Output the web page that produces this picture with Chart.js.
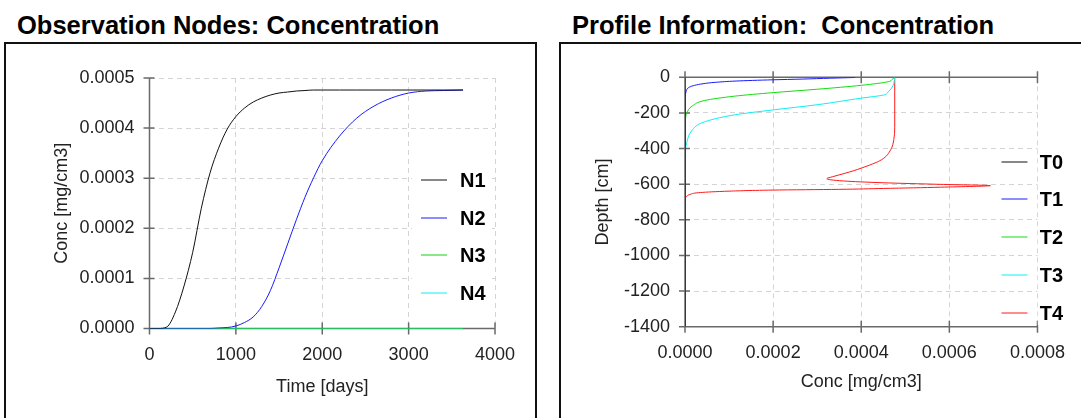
<!DOCTYPE html>
<html>
<head>
<meta charset="utf-8">
<script src="https://cdn.jsdelivr.net/npm/chart.js@4.4.1/dist/chart.umd.min.js"></script>
<style>
  html, body { margin: 0; padding: 0; background: #fff; }
  body { width: 1081px; height: 418px; position: relative; overflow: hidden; font-family: "Liberation Sans", Arial, sans-serif; }
  .title { position: absolute; top: 11px; font-weight: bold; font-size: 25.5px; color: #000; white-space: pre; }
  .box { position: absolute; top: 42px; height: 400px; border: 2px solid #111; }
  canvas { position: absolute; top: 0; }
</style>
</head>
<body>
<div class="title" style="left:17px">Observation Nodes: Concentration</div>
<div class="title" style="left:572px">Profile Information:  Concentration</div>
<div class="box" style="left:4px; width:529px"></div>
<div class="box" style="left:559px; width:540px"></div>
<canvas id="nodes" width="540" height="418" style="left:0"></canvas>
<canvas id="profile" width="521" height="418" style="left:560px"></canvas>
<script>
// observation nodes: concentration vs time
const timeDays = [0, 100, 200, 300, 400, 500, 600, 700, 800, 900, 1000, 1100, 1200, 1300, 1400,
                  1500, 1600, 1700, 1800, 1900, 2000, 2200, 2400, 2600, 2800, 3000, 3200, 3400, 3630];
const nodeLabels = ['N1', 'N2', 'N3', 'N4'];
const n1Conc = [0, 0, 0.000003, 0.000033, 0.000085, 0.000152, 0.00024, 0.00031, 0.00036, 0.000398,
                0.000423, 0.00044, 0.000452, 0.00046, 0.000466, 0.00047, 0.000472, 0.000474, 0.000475,
                0.000476, 0.000476, 0.000476, 0.000476, 0.000476, 0.000476, 0.000476, 0.000476, 0.000476, 0.000476];
const n2Conc = [0, 0, 0, 0, 0, 0, 0, 0, 0.000001, 0.000002, 0.000005, 0.000012, 0.000023, 0.000044,
                0.000076, 0.000121, 0.000169, 0.000217, 0.000262, 0.000301, 0.000335, 0.000384, 0.00042,
                0.000444, 0.00046, 0.00047, 0.000474, 0.000475, 0.000476];
const n3Conc = [0, 0, 0, 0, 0, 0, 0, 0, 0, 0, 0, 0, 0, 0, 0, 0, 0, 0, 0, 0, 0, 0, 0, 0, 0, 0, 0, 0, 0];
const n4Conc = [0, 0, 0, 0, 0, 0, 0, 0, 0, 0, 0, 0, 0, 0, 0, 0, 0, 0, 0, 0, 0, 0, 0, 0, 0, 0, 0, 0, 0];
const timeTicks = [0, 1000, 2000, 3000, 4000];
const nodeConcTicks = [0, 0.0001, 0.0002, 0.0003, 0.0004, 0.0005];

// profile information: depth vs concentration
const profileLabels = ['T0', 'T1', 'T2', 'T3', 'T4'];
const t0Depth = [0, -1400];
const t0Conc = [0, 0];
const t1Depth = [-1, -5, -10, -14, -21, -28, -36, -54, -85, -110, -1400];
const t1Conc = [0.000386, 0.00033, 0.000266, 0.0002, 0.000116, 0.00007, 0.000041, 0.000011, 0.000002, 0, 0];
const t2Depth = [0, -12, -25, -45, -67, -86, -106, -130, -160, -200, -240, -290, -1400];
const t2Conc = [0.000476, 0.00047, 0.000461, 0.0004, 0.0003, 0.0002, 0.000112, 0.000045, 0.000017, 0.000004, 0.000001, 0, 0];
const t3Depth = [0, -34, -60, -82, -100, -117, -154, -183, -211, -253, -301, -368, -434, -1400];
const t3Conc = [0.000476, 0.000474, 0.000469, 0.000461, 0.00045, 0.0004, 0.0003, 0.0002, 0.000112, 0.000041, 0.000015, 0.000004, 0, 0];
const t4Depth = [0, -280, -349, -406, -463, -510, -539, -558, -569, -582, -592, -601, -608,
                 -617, -624, -629, -633, -640, -648, -657, -670, -680, -1400];
const t4Conc = [0.000476, 0.000476, 0.000474, 0.000467, 0.000446, 0.0004, 0.000363, 0.000335, 0.000322,
                0.00036, 0.00045, 0.00058, 0.000693, 0.00058, 0.00045, 0.000349, 0.0002, 0.00009,
                0.00003, 0.000012, 0.000003, 0, 0];
const profileConcTicks = [0, 0.0002, 0.0004, 0.0006, 0.0008];
const depthTicks = [-1400, -1200, -1000, -800, -600, -400, -200, 0];

Chart.defaults.font.family = '"Liberation Sans", Arial, sans-serif';
Chart.defaults.font.size = 18;
Chart.defaults.color = '#222';

// axis lines with crossing tick marks, plus the in-plot legend
const axisFrame = {
  id: 'axisFrame',
  beforeDatasetsDraw(chart, args, o) {
    const { ctx, chartArea: a, scales } = chart;
    ctx.save();
    if (o.boxW) {
      ctx.fillStyle = '#fff';
      ctx.fillRect(a.right + o.boxX, a.top + o.boxY, o.boxW, o.boxH);
    }
    ctx.strokeStyle = '#6a6a6a';
    ctx.lineWidth = 1.5;
    ctx.beginPath();
    ctx.moveTo(a.left, a.top);
    ctx.lineTo(a.left, a.bottom);
    scales.y.ticks.forEach(t => {
      const p = scales.y.getPixelForValue(t.value);
      ctx.moveTo(a.left - 6, p);
      ctx.lineTo(a.left + 5, p);
    });
    const sides = o.top ? [a.bottom, a.top] : [a.bottom];
    sides.forEach(yy => {
      ctx.moveTo(a.left, yy);
      ctx.lineTo(a.right, yy);
      scales.x.ticks.forEach(t => {
        const p = scales.x.getPixelForValue(t.value);
        ctx.moveTo(p, yy - 6);
        ctx.lineTo(p, yy + 6);
      });
    });
    ctx.stroke();
    ctx.restore();
  },
  afterDatasetsDraw(chart, args, o) {
    const { ctx, chartArea: a } = chart;
    ctx.save();
    ctx.font = 'bold 20px "Liberation Sans", Arial, sans-serif';
    ctx.textBaseline = 'middle';
    chart.data.datasets.forEach((ds, i) => {
      const y = Math.round(a.top + o.rowTop + i * o.rowGap);
      const x0 = a.right + o.lineX;
      ctx.strokeStyle = ds.borderColor;
      ctx.lineWidth = 1;
      ctx.beginPath();
      ctx.moveTo(x0, y);
      ctx.lineTo(x0 + 26, y);
      ctx.stroke();
      const tx = a.right + o.textX;
      if (o.textBg) {
        ctx.fillStyle = '#fff';
        ctx.fillRect(tx - 2, y - 12, ctx.measureText(ds.label).width + 4, 24);
      }
      ctx.fillStyle = '#000';
      ctx.fillText(ds.label, tx, y + 1);
    });
    ctx.restore();
  }
};

const gridStyle = { color: '#d4d4d4', drawTicks: false };
const borderStyle = { display: false, dash: [5, 4] };

const nodeSeries = [n1Conc, n2Conc, n3Conc, n4Conc];
const nodeColors = ['#111111', '#1a1aff', '#12d012', '#12eeee'];

new Chart(document.getElementById('nodes'), {
  type: 'scatter',
  data: {
    datasets: nodeLabels.map((label, i) => ({
      label,
      data: timeDays.map((t, k) => ({ x: t, y: nodeSeries[i][k] })),
      borderColor: nodeColors[i],
      borderWidth: 1,
      showLine: true,
      pointRadius: 0,
      cubicInterpolationMode: 'monotone'
    }))
  },
  options: {
    responsive: false,
    animation: false,
    events: [],
    layout: { padding: { left: 0, top: 78, right: 45, bottom: 0 } },
    scales: {
      x: {
        type: 'linear', min: 0, max: 4000,
        afterBuildTicks: s => { s.ticks = timeTicks.map(v => ({ value: v })); },
        afterFit: s => { s.height = 89.5; },
        grid: gridStyle, border: borderStyle,
        ticks: { padding: 16, callback: v => String(v) },
        title: { display: true, text: 'Time [days]', font: { size: 18 }, padding: { top: 0, bottom: 20 } }
      },
      y: {
        type: 'linear', min: 0, max: 0.0005,
        afterBuildTicks: s => { s.ticks = nodeConcTicks.map(v => ({ value: v })); },
        afterFit: s => { s.width = 149.5; },
        grid: gridStyle, border: borderStyle,
        ticks: { padding: 15, callback: v => v.toFixed(4) },
        title: { display: true, text: 'Conc [mg/cm3]', font: { size: 18 }, padding: { top: 51, bottom: 0 } }
      }
    },
    plugins: {
      legend: { display: false },
      tooltip: { enabled: false },
      axisFrame: { top: false, rowTop: 102, rowGap: 37.7, lineX: -74, textX: -35,
                   boxX: -83, boxY: 85, boxW: 78, boxH: 147, textBg: false }
    }
  },
  plugins: [axisFrame]
});

const profileDepths = [t0Depth, t1Depth, t2Depth, t3Depth, t4Depth];
const profileConcs = [t0Conc, t1Conc, t2Conc, t3Conc, t4Conc];
const profileColors = ['#111111', '#1a1aff', '#12dd12', '#12eeee', '#ff1a1a'];

new Chart(document.getElementById('profile'), {
  type: 'scatter',
  data: {
    datasets: profileLabels.map((label, i) => ({
      label,
      data: profileDepths[i].map((d, k) => ({ x: profileConcs[i][k], y: d })),
      borderColor: profileColors[i],
      borderWidth: 1,
      showLine: true,
      pointRadius: 0,
      indexAxis: 'y',
      cubicInterpolationMode: 'monotone'
    }))
  },
  options: {
    responsive: false,
    animation: false,
    events: [],
    layout: { padding: { left: 0, top: 77.3, right: 40, bottom: 0 } },
    scales: {
      x: {
        type: 'linear', min: 0, max: 0.0008,
        afterBuildTicks: s => { s.ticks = profileConcTicks.map(v => ({ value: v })); },
        afterFit: s => { s.height = 91.3; },
        grid: gridStyle, border: borderStyle,
        ticks: { padding: 16, callback: v => v.toFixed(4) },
        title: { display: true, text: 'Conc [mg/cm3]', font: { size: 18 }, padding: { top: 0, bottom: 25 } }
      },
      y: {
        type: 'linear', min: -1400, max: 0,
        afterBuildTicks: s => { s.ticks = depthTicks.map(v => ({ value: v })); },
        afterFit: s => { s.width = 125; },
        grid: gridStyle, border: borderStyle,
        ticks: { padding: 15, callback: v => String(v) },
        title: { display: true, text: 'Depth [cm]', font: { size: 18 }, padding: { top: 32, bottom: 0 } }
      }
    },
    plugins: {
      legend: { display: false },
      tooltip: { enabled: false },
      axisFrame: { top: true, rowTop: 84.4, rowGap: 37.75, lineX: -36, textX: 2.3, textBg: true }
    }
  },
  plugins: [axisFrame]
});
</script>
</body>
</html>
